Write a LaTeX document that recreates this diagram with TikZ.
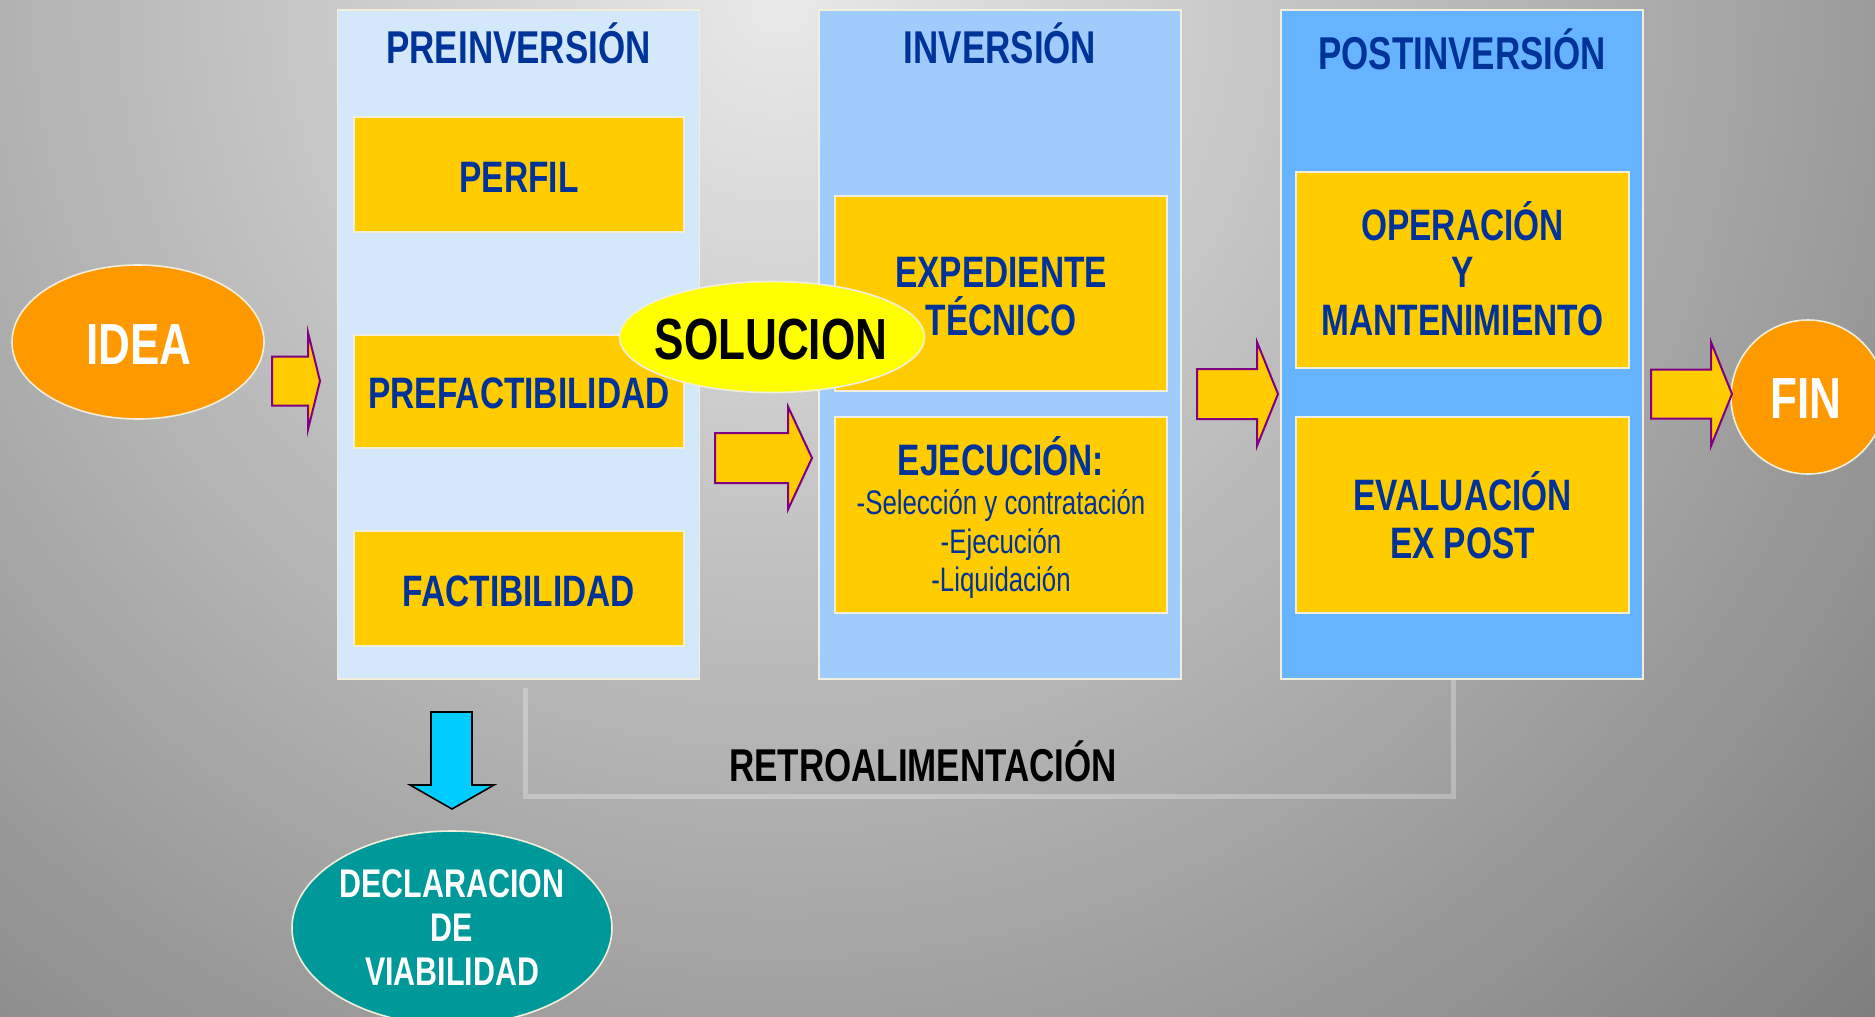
\documentclass[tikz,border=0pt]{standalone}
\usepackage{fontspec}
\setmainfont{Liberation Sans}[FakeStretch=0.76]
\usetikzlibrary{shapes.geometric}
\definecolor{titleblue}{HTML}{003399}
\definecolor{boxyellow}{HTML}{FFCC00}
\definecolor{edgecream}{HTML}{F2EEDC}
\definecolor{prefill}{HTML}{D4E8FC}
\definecolor{invfill}{HTML}{A0CCFD}
\definecolor{postfill}{HTML}{66B3FF}
\definecolor{ideaorange}{HTML}{FF9900}
\definecolor{solyellow}{HTML}{FFFF00}
\definecolor{declteal}{HTML}{009999}
\definecolor{arrowpurple}{HTML}{800080}
\definecolor{downcyan}{HTML}{00CCFF}
\definecolor{bgin}{HTML}{E9E9E9}
\definecolor{bgout}{HTML}{7E7E7E}
\begin{document}
\begin{tikzpicture}[x=0.5pt,y=-0.5pt,
  panel/.style={draw=edgecream, line width=0.8pt, minimum width=181pt, minimum height=334.5pt, inner sep=0pt},
  ybox/.style={fill=boxyellow, draw=edgecream, line width=0.8pt, inner sep=0pt},
  subtext/.style={text=titleblue, font=\fontsize{17}{19}\selectfont, inner sep=0pt, anchor=base},
  ttl/.style={text=titleblue, font=\bfseries\fontsize{22}{24}\selectfont, inner sep=0pt, anchor=base},
  head/.style={ttl, font=\bfseries\fontsize{23}{24}\selectfont},
  oval/.style={ellipse, draw=edgecream, line width=0.8pt, inner sep=0pt},
  blockarrow/.style={fill=boxyellow, draw=arrowpurple, line width=1pt, line join=miter},
  fb/.style={draw=white, draw opacity=0.28, line width=2.5pt}
]
\useasboundingbox (0,0) rectangle (1875,1017);
% background
\begin{scope}
\clip (0,0) rectangle (1875,1017);
\fill[bgout] (0,0) rectangle (1875,1017);
\shade[inner color=bgin, outer color=bgout] (780,0) circle (1500);
\end{scope}

% feedback line
\coordinate (fbL) at (525,688);
\coordinate (fbR) at (1453,679);
\coordinate (fbY) at (0,796);
\draw[fb] (fbL) -- (fbL |- fbY) -- (fbR |- fbY) -- (fbR);

% panels
\node[panel, fill=prefill] (pre) at (518.5,344.5) {};
\node[panel, fill=invfill] (inv) at (1000,344.5) {};
\node[panel, fill=postfill] (post) at (1462,344.5) {};

\node[head] (tpre) at (518.5,63) {PREINVERSIÓN};
\node[head] (tinv) at (1000,63) {INVERSIÓN};
\node[head] (tpost) at (1462,69) {POSTINVERSIÓN};

% yellow boxes
\node[ybox, minimum width=165pt, minimum height=57.5pt] (perfil) at (519,174.5) {};
\node[ybox, minimum width=165pt, minimum height=56.5pt] (prefact) at (519,391.5) {};
\node[ybox, minimum width=165pt, minimum height=57.5pt] (fact) at (519,588.5) {};
\node[ybox, minimum width=166pt, minimum height=97.5pt] (exped) at (1001,293.5) {};
\node[ybox, minimum width=166pt, minimum height=98pt] (ejec) at (1001,515) {};
\node[ybox, minimum width=166.5pt, minimum height=98pt] (oper) at (1462.5,270) {};
\node[ybox, minimum width=166.5pt, minimum height=98pt] (eval) at (1462.5,515) {};

\node[ttl] (tperfil) at (519,192) {PERFIL};
\node[ttl] (tprefact) at (519,408) {PREFACTIBILIDAD};
\node[ttl] (tfact) at (519,606) {FACTIBILIDAD};
\node[ttl] (texped1) at (1001,287) {EXPEDIENTE};
\node[ttl] (texped2) at (1001,335) {TÉCNICO};
\node[ttl] (tejec) at (1001,475) {EJECUCIÓN:};
\node[subtext] (tejec1) at (1001,514) {-Selección y contratación};
\node[subtext] (tejec2) at (1001,553) {-Ejecución};
\node[subtext] (tejec3) at (1001,591) {-Liquidación};
\node[ttl] (toper1) at (1462.5,240) {OPERACIÓN};
\node[ttl] (toper2) at (1462.5,287) {Y};
\node[ttl] (toper3) at (1462.5,335) {MANTENIMIENTO};
\node[ttl] (teval1) at (1462.5,510) {EVALUACIÓN};
\node[ttl] (teval2) at (1462.5,558) {EX POST};

% ellipses
\node[oval, fill=ideaorange, minimum width=126pt, minimum height=77pt] (idea) at (138,342) {};
\node[text=white, font=\bfseries\fontsize{29}{30}\selectfont, inner sep=0pt, anchor=base] (tidea) at (139,364) {IDEA};

\node[oval, fill=solyellow, minimum width=152.5pt, minimum height=55.5pt] (sol) at (772,337) {};
\node[text=black, font=\bfseries\fontsize{29}{30}\selectfont, inner sep=0pt, anchor=base] (tsol) at (771,359) {SOLUCION};

\node[oval, fill=ideaorange, minimum width=77pt, minimum height=77pt] (fin) at (1808,397) {};
\node[text=white, font=\bfseries\fontsize{29}{30}\selectfont, inner sep=0pt, anchor=base] (tfin) at (1806,418) {FIN};

\node[oval, fill=declteal, minimum width=160pt, minimum height=97pt] (decl) at (452,928) {};
\node[text=white, font=\bfseries\fontsize{20}{22}\selectfont, align=center, inner sep=0pt] (tdecl) at (452,928) {DECLARACION\\DE\\VIABILIDAD};

\node[text=black, font=\bfseries\fontsize{23}{24}\selectfont, inner sep=0pt, anchor=base] (tretro) at (923,781) {RETROALIMENTACIÓN};

% block arrows
\draw[blockarrow] (272,356.5) -- (308,356.5) -- (308,332.5) -- (320,381) -- (308,429.5) -- (308,405.5) -- (272,405.5) -- cycle;
\draw[blockarrow] (715,433) -- (788,433) -- (788,406.5) -- (812,458) -- (788,509.5) -- (788,483) -- (715,483) -- cycle;
\draw[blockarrow] (1197,369) -- (1257,369) -- (1257,342) -- (1278,394) -- (1257,446) -- (1257,419) -- (1197,419) -- cycle;
\draw[blockarrow] (1651,369.5) -- (1711,369.5) -- (1711,342) -- (1732,394) -- (1711,446) -- (1711,418.5) -- (1651,418.5) -- cycle;

% down arrow
\draw[fill=downcyan, draw=black, line width=0.8pt] (431,712) -- (472,712) -- (472,785) -- (494,785) -- (452,809) -- (410,785) -- (431,785) -- cycle;
\end{tikzpicture}
\end{document}
